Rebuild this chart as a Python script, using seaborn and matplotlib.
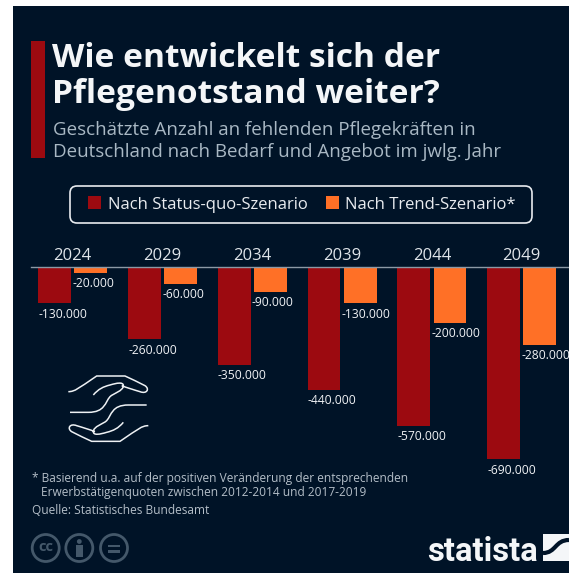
import numpy as np
import pandas as pd
import matplotlib
matplotlib.use("Agg")
import matplotlib.pyplot as plt
from matplotlib.patches import Rectangle, FancyBboxPatch, Circle, PathPatch
from matplotlib.path import Path
import seaborn as sns

# Data
years = ["2024", "2029", "2034", "2039", "2044", "2049"]
status_quo = [-130000, -260000, -350000, -440000, -570000, -690000]
trend = [-20000, -60000, -90000, -130000, -200000, -280000]
scenarios = ["Nach Status-quo-Szenario", "Nach Trend-Szenario*"]

RED = "#9c0a10"
ORANGE = "#ff7026"
BG = "#001327"
W, H = 569, 573

sns.set_theme(style="white")
plt.rcParams["font.family"] = ["Open Sans", "DejaVu Sans"]

df = pd.DataFrame({
    "year": years * 2,
    "value": status_quo + trend,
    "scenario": [scenarios[0]] * 6 + [scenarios[1]] * 6,
})

fig = plt.figure(figsize=(W / 100, H / 100), dpi=100, facecolor="white")

# Background layer in pixel coordinates
bg = fig.add_axes([0, 0, 1, 1], zorder=0)
bg.set_xlim(0, W)
bg.set_ylim(H, 0)
bg.axis("off")
bg.add_patch(Rectangle((13, 6), W - 13, H - 6, color=BG, lw=0))
bg.add_patch(Rectangle((31, 41), 14, 117, color=RED, lw=0))

bg.text(52, 67, "Wie entwickelt sich der", color="#f4f6f8", fontsize=24.1, fontweight="bold", va="baseline")
bg.text(52, 103, "Pflegenotstand weiter?", color="#f4f6f8", fontsize=24.1, fontweight="bold", va="baseline")
bg.text(53, 135, "Geschätzte Anzahl an fehlenden Pflegekräften in", color="#a9b8c4", fontsize=13.5, va="baseline")
bg.text(53, 157, "Deutschland nach Bedarf und Angebot im jwlg. Jahr", color="#a9b8c4", fontsize=13.5, va="baseline")

foot = "#b4bec8"
bg.text(32, 482, "* Basierend u.a. auf der positiven Veränderung der entsprechenden", color=foot, fontsize=8.6, va="baseline")
bg.text(41, 496, "Erwerbstätigenquoten zwischen 2012-2014 und 2017-2019", color=foot, fontsize=8.6, va="baseline")
bg.text(32, 514, "Quelle: Statistisches Bundesamt", color=foot, fontsize=8.6, va="baseline")

# Legend frame
bg.add_patch(FancyBboxPatch((76, 192), 450, 25, boxstyle="round,pad=6,rounding_size=7",
                            fc=BG, ec="#e8ebef", lw=1.2))


def hand(flip):
    outer = [(40, 80), (60, 80), (70, 70), (125, 33), (150, 33), (185, 33), (210, 33),
             (230, 42), (250, 52), (270, 62), (285, 72), (275, 88), (255, 80),
             (235, 74), (215, 68), (200, 62)]
    inner = [(115, 90), (130, 72), (145, 65), (165, 60), (185, 54), (205, 50), (205, 62),
             (205, 78), (175, 85), (165, 95), (150, 112), (150, 142), (100, 142),
             (80, 142), (60, 142), (45, 142)]
    pts = np.array(outer + inner, dtype=float)
    codes = [Path.MOVETO] + [Path.CURVE4] * 15 + [Path.MOVETO] + [Path.CURVE4] * 15
    if flip:
        pts = np.array([320, 262]) - pts
    return Path(np.array([55, 365]) + pts / 3, codes)


for flip in [False, True]:
    bg.add_patch(PathPatch(hand(flip), fc="none", ec="#eef1f4", lw=1.1))

# Licence icons
icon = "#44586a"
for cx in [45.7, 79.3, 114]:
    bg.add_patch(Circle((cx, 548), 13.5, fc="none", ec=icon, lw=2))
bg.text(45.7, 547, "cc", color=icon, fontsize=10.5, fontweight="bold", ha="center", va="center")
bg.add_patch(Circle((79.3, 541.5), 2.4, color=icon, lw=0))
bg.add_patch(Rectangle((76, 545), 6.6, 12, color=icon, lw=0))
bg.add_patch(Rectangle((108, 544.5), 12, 2.6, color=icon, lw=0))
bg.add_patch(Rectangle((108, 550), 12, 2.6, color=icon, lw=0))

# Logo
bg.text(427, 561, "statista", color="#f4f6f8", fontsize=23.6, fontweight="bold",
        family="Roboto", va="baseline")
bg.add_patch(Rectangle((543, 534), 26, 27, color="#f4f6f8", lw=0))
wave = Path([(543, 553), (556, 553), (555, 540), (569, 540)],
            [Path.MOVETO, Path.CURVE4, Path.CURVE4, Path.CURVE4])
bg.add_patch(PathPatch(wave, fc="none", ec=BG, lw=3))

# Chart axes: baseline at y=267 px, 89.8 px per group
left, right, top, bottom = 31, W, 267, 490
ax = fig.add_axes([left / W, 1 - bottom / H, (right - left) / W, (bottom - top) / H], zorder=1)
ax.patch.set_alpha(0)
sns.barplot(data=df, x="year", y="value", hue="scenario", palette=[RED, ORANGE],
            width=0.804, gap=0.094, saturation=1, linewidth=0, ax=ax)
x0 = -(72.7 - left) / 89.8
ax.set_xlim(x0, x0 + (right - left) / 89.8)
ax.set_ylim(-(bottom - top) / 0.2787 * 1000, 0)
ax.set_xlabel("")
ax.set_ylabel("")
ax.set_yticks([])
ax.xaxis.tick_top()
ax.tick_params(axis="x", length=0, pad=2, labelsize=12, labelcolor="#dfe4e9")
for s in ["left", "right", "bottom"]:
    ax.spines[s].set_visible(False)
ax.spines["top"].set_color("#8c99a6")
ax.spines["top"].set_linewidth(1)

# Value labels, left aligned with the bars
for i, cont in enumerate(ax.containers):
    for bar in cont:
        val = bar.get_height()
        txt = f"{val:,.0f}".replace(",", ".")
        ax.annotate(txt, (bar.get_x(), val), xytext=(-1.5 * i, -7.8), textcoords="offset points",
                    ha="left", va="center", color="#f0f2f5", fontsize=8.7, annotation_clip=False)

# Legend
sns.move_legend(ax, "center", bbox_to_anchor=(302 / W, 1 - 204.5 / H), bbox_transform=fig.transFigure,
                ncol=2, title=None, frameon=False, fontsize=12, labelcolor="#e8ebef",
                handlelength=0.78, handleheight=0.78, handletextpad=0.4, columnspacing=1.1,
                borderaxespad=0)

fig.savefig("out.png", dpi=100, facecolor="white")
